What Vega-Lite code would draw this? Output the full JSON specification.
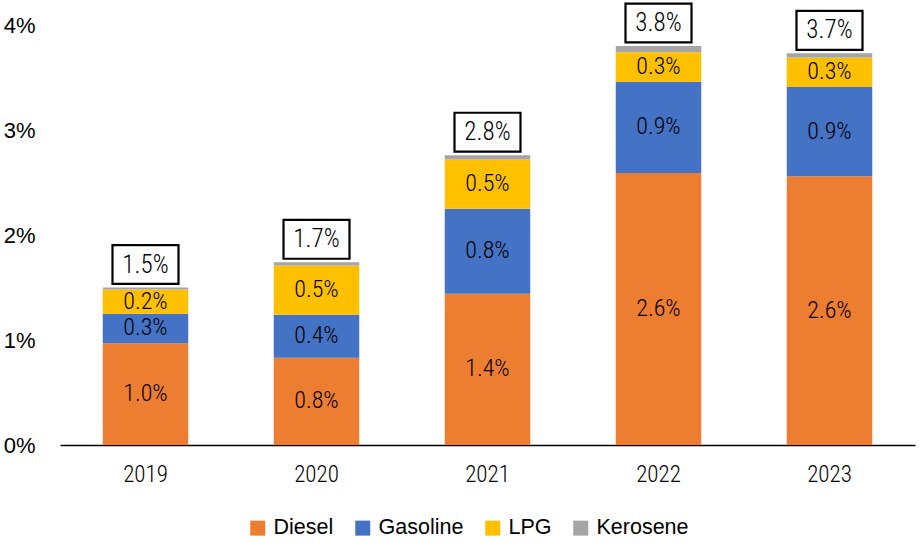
{
  "$schema": "https://vega.github.io/schema/vega-lite/v6.json",
  "width": 855,
  "height": 420,
  "autosize": {"type": "none"},
  "padding": {"left": 60, "top": 25, "right": 4, "bottom": 101},
  "background": "white",
  "config": {
    "view": {"stroke": null},
    "font": "Liberation Sans, Arial, sans-serif"
  },
  "data": {
    "values": [
      {"year": "2019", "fuel": "Diesel", "rank": 1, "value": 0.0097},
      {"year": "2019", "fuel": "Gasoline", "rank": 2, "value": 0.0028},
      {"year": "2019", "fuel": "LPG", "rank": 3, "value": 0.0023},
      {"year": "2019", "fuel": "Kerosene", "rank": 4, "value": 0.0002},
      {"year": "2020", "fuel": "Diesel", "rank": 1, "value": 0.0083},
      {"year": "2020", "fuel": "Gasoline", "rank": 2, "value": 0.0041},
      {"year": "2020", "fuel": "LPG", "rank": 3, "value": 0.0047},
      {"year": "2020", "fuel": "Kerosene", "rank": 4, "value": 0.0003},
      {"year": "2021", "fuel": "Diesel", "rank": 1, "value": 0.0144},
      {"year": "2021", "fuel": "Gasoline", "rank": 2, "value": 0.0081},
      {"year": "2021", "fuel": "LPG", "rank": 3, "value": 0.0047},
      {"year": "2021", "fuel": "Kerosene", "rank": 4, "value": 0.0004},
      {"year": "2022", "fuel": "Diesel", "rank": 1, "value": 0.0259},
      {"year": "2022", "fuel": "Gasoline", "rank": 2, "value": 0.0087},
      {"year": "2022", "fuel": "LPG", "rank": 3, "value": 0.0028},
      {"year": "2022", "fuel": "Kerosene", "rank": 4, "value": 0.0006},
      {"year": "2023", "fuel": "Diesel", "rank": 1, "value": 0.0256},
      {"year": "2023", "fuel": "Gasoline", "rank": 2, "value": 0.0085},
      {"year": "2023", "fuel": "LPG", "rank": 3, "value": 0.0028},
      {"year": "2023", "fuel": "Kerosene", "rank": 4, "value": 0.0004}
    ]
  },
  "encoding": {
    "x": {
      "field": "year",
      "type": "nominal",
      "scale": {"paddingInner": 0.5, "paddingOuter": 0.25},
      "axis": {
        "title": null,
        "labelAngle": 0,
        "labelFont": "Roboto Condensed",
        "labelFontWeight": 300,
        "labelFontSize": 23,
        "labelColor": "#000000",
        "labelPadding": 18,
        "ticks": false,
        "domainColor": "#000000",
        "domainWidth": 1.5
      }
    }
  },
  "layer": [
    {
      "mark": {"type": "bar"},
      "encoding": {
        "y": {
          "field": "value",
          "type": "quantitative",
          "stack": "zero",
          "scale": {"domain": [0, 0.04], "nice": false},
          "axis": {
            "title": null,
            "format": ".0%",
            "values": [0, 0.01, 0.02, 0.03, 0.04],
            "labelFontSize": 22,
            "labelColor": "#000000",
            "labelPadding": 25,
            "ticks": false,
            "domain": false,
            "grid": false
          }
        },
        "color": {
          "field": "fuel",
          "type": "nominal",
          "scale": {
            "domain": ["Diesel", "Gasoline", "LPG", "Kerosene"],
            "range": ["#ED7D31", "#4472C4", "#FFC000", "#A5A5A5"]
          },
          "legend": {
            "title": null,
            "orient": "none",
            "legendX": 187,
            "legendY": 492,
            "direction": "horizontal",
            "symbolType": "square",
            "symbolSize": 225,
            "symbolStrokeWidth": 0,
            "symbolOpacity": 1,
            "labelFontSize": 21.5,
            "labelColor": "#000000",
            "labelOffset": 5,
            "columnPadding": 18
          }
        },
        "order": {"field": "rank", "type": "quantitative", "sort": "ascending"}
      }
    },
    {
      "transform": [
        {"stack": "value", "groupby": ["year"], "sort": [{"field": "rank", "order": "ascending"}], "as": ["v0", "v1"]},
        {"calculate": "(datum.v0 + datum.v1) / 2", "as": "labelPos"},
        {"filter": "datum.fuel !== 'Kerosene'"}
      ],
      "mark": {"type": "text", "font": "Roboto Condensed", "fontWeight": 300, "fontSize": 24, "color": "#000000", "baseline": "middle", "align": "center"},
      "encoding": {
        "y": {"field": "labelPos", "type": "quantitative"},
        "text": {"field": "value", "type": "quantitative", "format": ".1%"}
      }
    },
    {
      "transform": [
        {"aggregate": [{"op": "sum", "field": "value", "as": "total"}], "groupby": ["year"]}
      ],
      "layer": [
        {
          "mark": {
            "type": "point",
            "shape": "M-1,-0.59L1,-0.59L1,0.59L-1,0.59Z",
            "size": 4356,
            "filled": true,
            "fill": "#FFFFFF",
            "stroke": "#000000",
            "strokeWidth": 2.2,
            "opacity": 1,
            "yOffset": -23
          },
          "encoding": {
            "y": {"field": "total", "type": "quantitative"}
          }
        },
        {
          "mark": {"type": "text", "font": "Roboto Condensed", "fontWeight": 300, "fontSize": 25, "color": "#000000", "baseline": "middle", "align": "center", "yOffset": -23},
          "encoding": {
            "y": {"field": "total", "type": "quantitative"},
            "text": {"field": "total", "type": "quantitative", "format": ".1%"}
          }
        }
      ]
    }
  ]
}
